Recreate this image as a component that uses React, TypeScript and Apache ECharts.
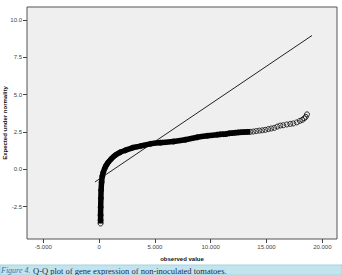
import React, { useEffect, useRef } from "react";
import * as echarts from "echarts";

// Reference line (expected under normality)
const refLine: [number, number][] = [
  [-367, -0.85],
  [19076, 8.96],
];

// Observed points (dense part drawn as band)
const denseCurve: [number, number][] = [
  [134, -3.63], [134, -3.41], [134, -3.07], [143, -2.54], [161, -1.94],
  [179, -1.4], [224, -0.87], [287, -0.47], [376, -0.2], [511, 0.07],
  [645, 0.27], [824, 0.47], [1093, 0.7], [1452, 0.94], [1900, 1.14],
  [2348, 1.27], [2975, 1.44], [3700, 1.55], [4588, 1.7], [5484, 1.78],
  [6675, 1.86], [7723, 1.98], [8799, 2.14], [9700, 2.24], [10591, 2.32],
  [11398, 2.37], [12204, 2.45], [13010, 2.49], [13548, 2.51],
];

const tailPoints: [number, number][] = [
  [10860, 2.34], [11129, 2.35], [11666, 2.41], [11935, 2.43], [12473, 2.47],
  [12742, 2.49], [13279, 2.5], [13817, 2.53], [14085, 2.56], [14354, 2.59],
  [14623, 2.61], [14892, 2.64], [15160, 2.69], [15429, 2.73], [15698, 2.77],
  [15967, 2.86], [16236, 2.93], [16505, 2.95], [16818, 3.0], [17132, 3.04],
  [17400, 3.07], [17714, 3.14], [17983, 3.24], [18207, 3.31], [18386, 3.41],
  [18520, 3.51], [18628, 3.68],
];

const xTicks = [-5000, 0, 5000, 10000, 15000, 20000];
const yTicks = [-2.5, 0, 2.5, 5, 7.5, 10];

const fmtThousands = (v: number) => {
  const s = Math.abs(v).toString().replace(/\B(?=(\d{3})+(?!\d))/g, ".");
  return (v < 0 ? "-" : "") + s;
};

export default function App() {
  const ref = useRef<HTMLDivElement>(null);
  useEffect(() => {
    if (!ref.current) return;
    const chart = echarts.init(ref.current, null, { renderer: "svg" });
    const font = "Liberation Sans, Arial, sans-serif";
    chart.setOption({
      animation: false,
      backgroundColor: "#ffffff",
      grid: {
        left: 27,
        right: 5,
        top: 7,
        bottom: 36,
        containLabel: false,
        outerBoundsMode: "none",
        show: true,
        backgroundColor: "#efefef",
        borderColor: "#555555",
        borderWidth: 1,
      },
      xAxis: {
        type: "value",
        min: -6460,
        max: 21317,
        name: "observed value",
        nameLocation: "middle",
        nameGap: 17,
        nameTextStyle: { fontFamily: font, fontSize: 6, fontWeight: "bold", color: "#111" },
        axisLine: { show: false, onZero: false },
        splitLine: { show: false },
        axisTick: { show: true, length: 4, customValues: xTicks, lineStyle: { color: "#444" } },
        axisLabel: {
          customValues: xTicks,
          margin: 5,
          fontFamily: font,
          fontSize: 6,
          color: "#444",
          formatter: (v: number) => fmtThousands(v),
        },
      },
      yAxis: {
        type: "value",
        min: -4.67,
        max: 10.87,
        axisLine: { show: false, onZero: false },
        splitLine: { show: false },
        axisTick: { show: true, length: 4, customValues: yTicks, lineStyle: { color: "#444" } },
        axisLabel: {
          customValues: yTicks,
          margin: 5,
          fontFamily: font,
          fontSize: 6,
          color: "#444",
          formatter: (v: number) => v.toFixed(1),
        },
      },
      series: [
        {
          type: "line",
          data: refLine,
          showSymbol: false,
          lineStyle: { color: "#222", width: 1 },
          z: 2,
        },
        {
          type: "line",
          data: denseCurve,
          showSymbol: false,
          smooth: 0.3,
          lineStyle: { color: "#000", width: 5.5 },
          z: 3,
        },
        {
          type: "scatter",
          data: [...denseCurve, ...tailPoints],
          symbol: "circle",
          symbolSize: 5,
          itemStyle: { color: "rgba(0,0,0,0)", borderColor: "#000", borderWidth: 1 },
          z: 4,
        },
      ],
      graphic: [
        {
          type: "text",
          x: 5,
          y: 123,
          rotation: Math.PI / 2,
          style: {
            text: "Expected under normality",
            fontFamily: font,
            fontSize: 6,
            fontWeight: "bold",
            fill: "#111",
            align: "center",
            verticalAlign: "middle",
          },
        },
        {
          type: "rect",
          shape: { x: 0, y: 265, width: 342, height: 10 },
          style: { fill: "#c3e4ed", stroke: "#a6d3e0", lineWidth: 1 },
        },
        {
          type: "text",
          x: 1,
          y: 266.5,
          style: {
            text: "Figure 4.",
            fontFamily: "Liberation Serif, serif",
            fontStyle: "italic",
            fontSize: 8,
            fill: "#2b7bb5",
            verticalAlign: "top",
          },
        },
        {
          type: "text",
          x: 33,
          y: 266,
          style: {
            text: "Q-Q plot of gene expression of non-inoculated tomatoes.",
            fontFamily: "Liberation Serif, serif",
            fontSize: 8.5,
            fill: "#1a2a4a",
            verticalAlign: "top",
          },
        },
      ],
    });
    return () => chart.dispose();
  }, []);
  return (
    <div
      ref={ref}
      style={{ position: "fixed", left: 0, top: 0, width: 342, height: 275, overflow: "hidden" }}
    />
  );
}
